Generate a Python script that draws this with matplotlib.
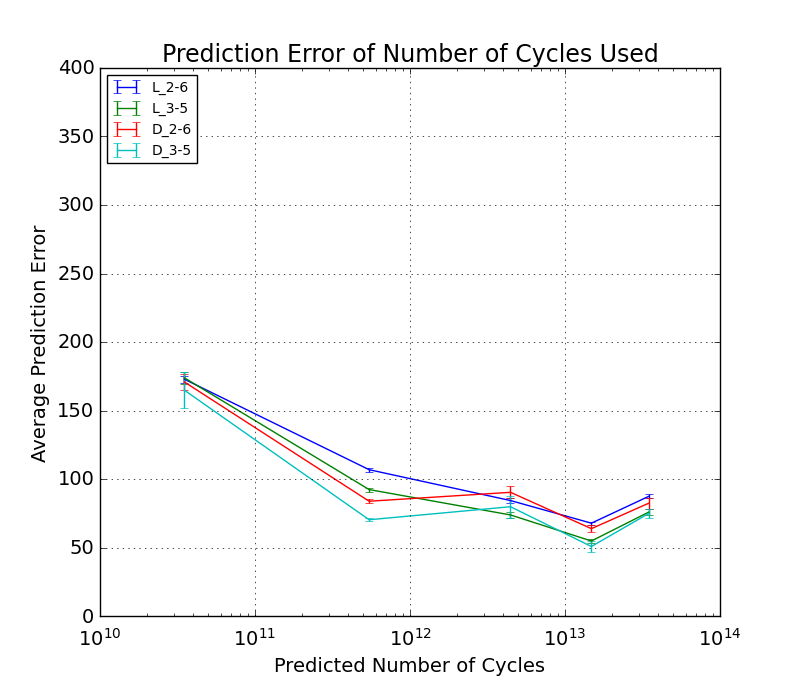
import matplotlib
matplotlib.use("Agg")
import matplotlib.pyplot as plt

plt.style.use("classic")

cycles = [3.5e10, 5.45e11, 4.45e12, 1.48e13, 3.46e13]
l26 = [173, 107, 84.5, 68, 87.5]
l26_err = [2.5, 1.5, 1.5, 1, 1.5]
l35 = [174, 92.5, 74, 55, 76]
l35_err = [4.5, 1.5, 2, 1.5, 2]
d26 = [171, 84, 90.5, 64, 82.5]
d26_err = [6, 1.5, 4.5, 2.5, 4]
d35 = [165, 70.5, 80, 51, 75]
d35_err = [13, 1, 8, 4, 3]

fig = plt.figure(figsize=(8, 6.857), dpi=252)
ax = fig.add_subplot(111)
ax.errorbar(cycles, l26, yerr=l26_err, color="b", label="L_2-6")
ax.errorbar(cycles, l35, yerr=l35_err, color="g", label="L_3-5")
ax.errorbar(cycles, d26, yerr=d26_err, color="r", label="D_2-6")
ax.errorbar(cycles, d35, yerr=d35_err, color="c", label="D_3-5")
ax.set_xscale("log")
ax.set_xlim(1e10, 1e14)
ax.set_ylim(0, 400)
ax.grid(True)
ax.tick_params(labelsize=14)
ax.tick_params(axis="x", pad=8)
ax.set_title("Prediction Error of Number of Cycles Used", fontsize=17)
ax.set_xlabel("Predicted Number of Cycles", fontsize=14)
ax.set_ylabel("Average Prediction Error", fontsize=14)
ax.legend(loc="upper left", fontsize=10)
fig.savefig("out.png")
